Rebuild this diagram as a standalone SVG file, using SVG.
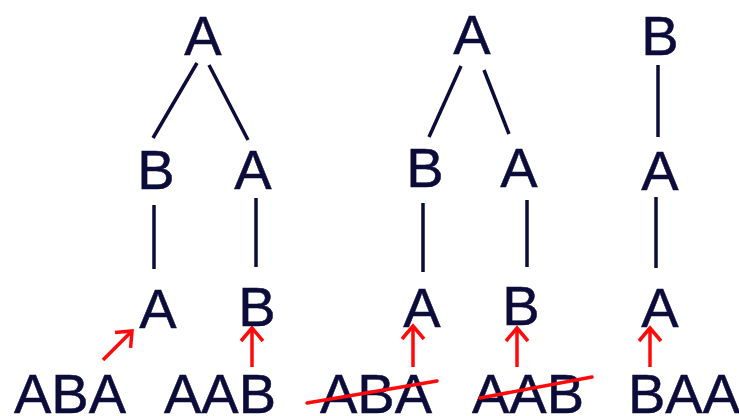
<svg xmlns="http://www.w3.org/2000/svg" width="739" height="416" viewBox="0 0 739 416">
<defs>
<style>
.t{font-family:"Liberation Sans",Arial,sans-serif;font-size:56px;fill:#0c0c3a;stroke:#0c0c3a;stroke-width:0.5;text-anchor:middle}
.e{stroke:#0c0c3a;stroke-width:3.5;fill:none;stroke-linecap:butt}
.r{stroke:#ff0a0a;stroke-width:3.5;fill:none}
.s{stroke:#ff0a0a;stroke-width:3.5;fill:none;stroke-linecap:round}
</style>
<marker id="ah" markerUnits="userSpaceOnUse" markerWidth="30" markerHeight="30" refX="0" refY="0" viewBox="-15 -15 30 30" orient="auto" overflow="visible">
<path d="M-13,-11 L0,0 L-13,11" fill="none" stroke="#ff0a0a" stroke-width="3.5"/>
</marker>
</defs>
<rect width="739" height="416" fill="#ffffff"/>
<g id="connectors">
<line class="e" x1="197" y1="63" x2="153" y2="138"/>
<line class="e" x1="209" y1="65" x2="248" y2="140"/>
<line class="e" x1="154" y1="205" x2="154" y2="269"/>
<line class="e" x1="256" y1="198" x2="256" y2="267"/>
<line class="e" x1="461" y1="66" x2="429" y2="137"/>
<line class="e" x1="484" y1="70" x2="509" y2="134"/>
<line class="e" x1="423" y1="203" x2="423" y2="272"/>
<line class="e" x1="527" y1="200" x2="527" y2="267"/>
<line class="e" x1="658" y1="65" x2="658" y2="137"/>
<line class="e" x1="656" y1="197" x2="656" y2="268"/>
<line class="r" x1="103" y1="360" x2="132" y2="331" marker-end="url(#ah)"/>
<line class="r" x1="252" y1="367" x2="252" y2="328" marker-end="url(#ah)"/>
<line class="r" x1="413" y1="367" x2="413" y2="326" marker-end="url(#ah)"/>
<line class="r" x1="517" y1="367" x2="517" y2="328" marker-end="url(#ah)"/>
<line class="r" x1="650" y1="367" x2="650" y2="328" marker-end="url(#ah)"/>
</g>
<g id="tree1">
<g id="t1-root"><text class="t" x="203" y="55">A</text></g>
<g id="t1-b"><text class="t" x="156" y="189">B</text></g>
<g id="t1-a"><text class="t" x="253" y="189">A</text></g>
<g id="t1-ba"><text class="t" x="158" y="328">A</text></g>
<g id="t1-ab"><text class="t" x="257" y="326">B</text></g>
</g>
<g id="tree2">
<g id="t2-root"><text class="t" x="472" y="54">A</text></g>
<g id="t2-b"><text class="t" x="425" y="187">B</text></g>
<g id="t2-a"><text class="t" x="519" y="187">A</text></g>
<g id="t2-ba"><text class="t" x="422" y="327">A</text></g>
<g id="t2-ab"><text class="t" x="521" y="325">B</text></g>
</g>
<g id="tree3">
<g id="t3-root"><text class="t" x="660" y="55">B</text></g>
<g id="t3-a"><text class="t" x="660" y="190">A</text></g>
<g id="t3-aa"><text class="t" x="660" y="327">A</text></g>
</g>
<g id="words">
<g id="w1"><text class="t" x="70" y="413">ABA</text></g>
<g id="w2"><text class="t" x="220" y="413">AAB</text></g>
<g id="w3"><text class="t" x="376" y="413">ABA</text><line class="s" x1="307" y1="403" x2="437" y2="381"/></g>
<g id="w4"><text class="t" x="528" y="413">AAB</text><line class="s" x1="480" y1="398" x2="592" y2="377"/></g>
<g id="w5"><text class="t" x="684" y="413">BAA</text></g>
</g>
</svg>
